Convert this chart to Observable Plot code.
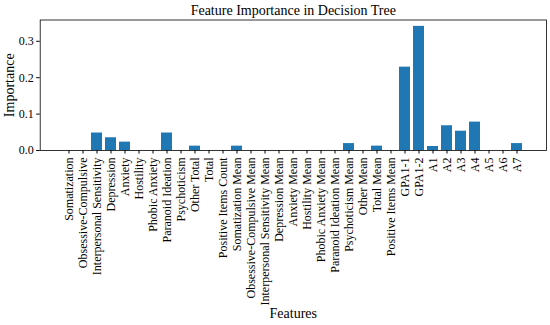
<!DOCTYPE html>
<html>
<head>
<meta charset="utf-8">
<script src="https://cdn.jsdelivr.net/npm/d3@7"></script>
<script src="https://cdn.jsdelivr.net/npm/@observablehq/plot@0.6"></script>
<style>
  html, body { margin: 0; padding: 0; background: white; }
  #chart svg { font-family: "Liberation Serif", "Times New Roman", serif; }
  #chart g[aria-label$="tick label"] { font-size: 12px; fill: black; }
  #chart g[aria-label$="tick"] { stroke: black; }
</style>
</head>
<body>
<div id="chart"></div>
<script>
const features = [
  "Somatization", "Obsessive-Compulsive", "Interpersonal Sensitivity", "Depression",
  "Anxiety", "Hostility", "Phobic Anxiety", "Paranoid Ideation", "Psychoticism",
  "Other Total", "Total", "Positive Items Count", "Somatization Mean",
  "Obsessive-Compulsive Mean", "Interpersonal Sensitivity Mean", "Depression Mean",
  "Anxiety Mean", "Hostility Mean", "Phobic Anxiety Mean", "Paranoid Ideation Mean",
  "Psychoticism Mean", "Other Mean", "Total Mean", "Positive Items Mean",
  "GPA1-1", "GPA1-2", "A1", "A2", "A3", "A4", "A5", "A6", "A7"
];
const importance = [
  0, 0, 0.048, 0.035,
  0.023, 0, 0, 0.048, 0,
  0.012, 0, 0, 0.012,
  0, 0, 0,
  0, 0, 0, 0,
  0.019, 0, 0.012, 0,
  0.229, 0.341, 0.011, 0.068, 0.053, 0.078, 0, 0, 0.019
];
const yTicks = [0, 0.1, 0.2, 0.3];
const titleText = "Feature Importance in Decision Tree";
const xLabel = "Features";
const yLabel = "Importance";

const data = features.map((f, i) => ({feature: f, value: importance[i]}));

const chart = Plot.plot({
  width: 550,
  height: 325,
  marginTop: 19.5,
  marginLeft: 39.7,
  marginRight: 4.1,
  marginBottom: 175,
  style: {fontFamily: "Liberation Serif", fontSize: "12px", background: "white", color: "black"},
  x: {domain: features, paddingInner: 0.2, paddingOuter: 1.64, align: 0.5, label: null},
  y: {domain: [0, 0.3585], label: null},
  marks: [
    Plot.barY(data, {x: "feature", y: "value", fill: "#1f77b4"}),
    Plot.axisX({tickRotate: -90, tickSize: 3.5, tickPadding: 3.5, fontSize: 12, label: null, stroke: "black", fill: "black"}),
    Plot.axisY({ticks: yTicks, tickFormat: d3.format(".1f"), tickSize: 3.5, tickPadding: 3, fontSize: 12, label: null, stroke: "black", fill: "black"}),
    Plot.frame({stroke: "black", strokeWidth: 0.8}),
    Plot.text([titleText], {frameAnchor: "top", dy: -9.5, fontSize: 14, lineAnchor: "middle", textAnchor: "middle", fill: "black"}),
    Plot.text([xLabel], {frameAnchor: "bottom", dy: 163, fontSize: 14, lineAnchor: "middle", textAnchor: "middle", fill: "black"}),
    Plot.text([yLabel], {frameAnchor: "left", dx: -30.5, fontSize: 14, rotate: -90, lineAnchor: "middle", textAnchor: "middle", fill: "black"})
  ]
});
document.getElementById("chart").appendChild(chart);
</script>
</body>
</html>
